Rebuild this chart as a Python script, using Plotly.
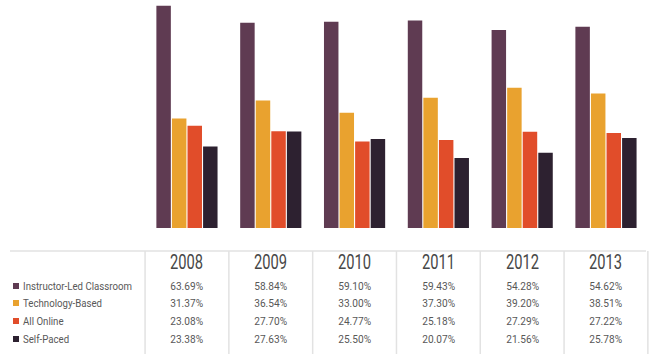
import plotly.graph_objects as go

years = ["2008", "2009", "2010", "2011", "2012", "2013"]
series_names = ["Instructor-Led Classroom", "Technology-Based", "All Online", "Self-Paced"]
# values printed in the table
instructor_pct = [63.69, 58.84, 59.10, 59.43, 54.28, 54.62]
technology_pct = [31.37, 36.54, 33.00, 37.30, 39.20, 38.51]
online_pct = [23.08, 27.70, 24.77, 25.18, 27.29, 27.22]
self_paced_pct = [23.38, 27.63, 25.50, 20.07, 21.56, 25.78]
# bar heights as drawn in the picture (a few differ from the table)
instructor_bar = [63.69, 58.84, 59.10, 59.43, 56.7, 57.7]
technology_bar = [31.37, 36.54, 33.00, 37.30, 40.2, 38.51]
online_bar = [29.3, 27.70, 24.77, 25.18, 27.6, 27.22]
self_paced_bar = [23.38, 27.63, 25.50, 20.07, 21.56, 25.78]
colors = ["#5f3b52", "#e9a22f", "#e14d2a", "#2d2130"]

bars = [instructor_bar, technology_bar, online_bar, self_paced_bar]
pcts = [instructor_pct, technology_pct, online_pct, self_paced_pct]
xs = list(range(len(years)))

W, H = 654, 354
FONT = "Roboto, sans-serif"

fig = go.Figure()
for name, vals, c in zip(series_names, bars, colors):
    fig.add_trace(go.Bar(x=xs, y=vals, name=name, marker=dict(color=c, line=dict(width=0)),
                         showlegend=False, hoverinfo="skip"))

base_px = 228
def py(p):
    return 1 - p / H

annotations = []
shapes = []
shapes.append(dict(type="line", xref="paper", yref="paper", x0=10 / W, x1=646 / W,
                   y0=py(251), y1=py(251), line=dict(color="#e2e2e2", width=1.5)))
for i in range(len(years) + 1):
    shapes.append(dict(type="line", xref="x", yref="paper", x0=i - 0.5, x1=i - 0.5,
                       y0=py(251), y1=0, line=dict(color="#e2e2e2", width=1.5)))
for i, yv in enumerate(years):
    annotations.append(dict(x=i, y=py(262), xref="x", yref="paper", text=yv, showarrow=False,
                            font=dict(family=FONT, size=21, color="#474747"),
                            xanchor="center", yanchor="middle", align="center"))
row_y = [286, 303, 321, 339]
for r, (name, vals, c) in enumerate(zip(series_names, pcts, colors)):
    for i, v in enumerate(vals):
        annotations.append(dict(x=i, y=py(row_y[r]), xref="x", yref="paper",
                                text=f"{v:.2f}%", showarrow=False,
                                font=dict(family=FONT, size=11.5, color="#585858"),
                                xanchor="center", yanchor="middle", align="center"))
    annotations.append(dict(x=21 / W, y=py(row_y[r]), xref="paper", yref="paper",
                            text=name, showarrow=False,
                            font=dict(family=FONT, size=10.5, color="#585858"),
                            xanchor="left", yanchor="middle", align="left"))
    shapes.append(dict(type="rect", xref="paper", yref="paper", x0=13 / W, x1=19 / W,
                       y0=py(row_y[r] + 3), y1=py(row_y[r] - 3),
                       fillcolor=c, line=dict(width=0)))

fig.update_layout(
    width=W, height=H,
    margin=dict(l=0, r=0, t=0, b=0),
    paper_bgcolor="white", plot_bgcolor="white",
    barmode="group", bargap=0.257, bargroupgap=0.07,
    xaxis=dict(range=[-2.231, 5.573], domain=[0, 1], showgrid=False, zeroline=False,
               showticklabels=False, ticks=""),
    yaxis=dict(range=[0, base_px / 3.49], domain=[1 - base_px / H, 1], showgrid=False,
               zeroline=False, showticklabels=False, ticks=""),
    annotations=annotations, shapes=shapes,
)

# condense the text (the reference uses a condensed typeface)
post = """
var gd = document.getElementById('{plot_id}');
function squeeze(){
  gd.querySelectorAll('text.annotation-text').forEach(function(t){
    if (t.getAttribute('data-sq')) return;
    var fs = parseFloat(t.style.fontSize);
    var f = fs > 15 ? 0.70 : (fs > 11 ? 0.88 : 0.92);
    var w = t.getComputedTextLength();
    t.setAttribute('textLength', (w * f).toFixed(2));
    t.setAttribute('lengthAdjust', 'spacingAndGlyphs');
    t.setAttribute('data-sq', '1');
  });
}
setTimeout(squeeze, 30);
if (gd.on) gd.on('plotly_afterplot', function(){ setTimeout(squeeze, 0); });
"""
fig.write_html("out.html", post_script=post)
